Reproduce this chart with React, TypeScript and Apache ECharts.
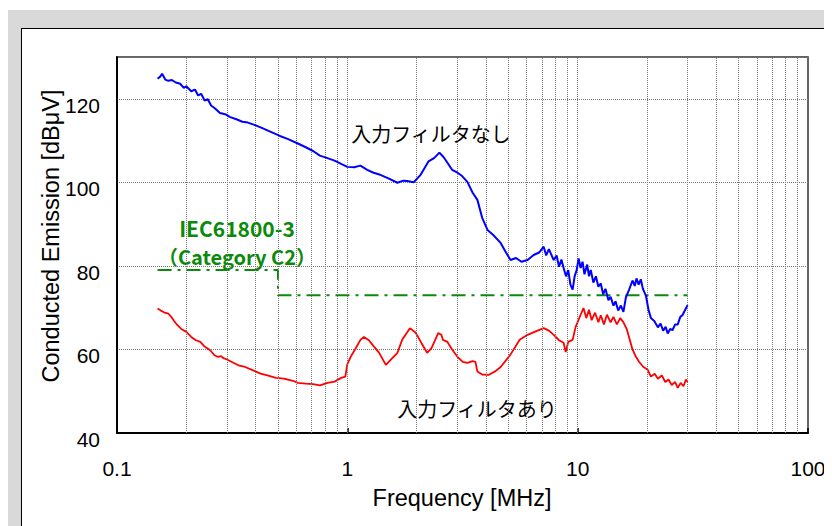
import React, { useEffect, useRef } from "react";
import * as echarts from "echarts";

// Conducted emission without input filter (MHz / dBμV)
const noFilterFreq = [
  0.150, 0.154, 0.157, 0.162, 0.167, 0.173, 0.180, 0.188, 0.195, 0.200,
  0.210, 0.218, 0.225, 0.232, 0.240, 0.248, 0.256, 0.265, 0.280, 0.295,
  0.310, 0.330, 0.350, 0.370, 0.398, 0.430, 0.460, 0.510, 0.550, 0.610,
  0.660, 0.710, 0.760, 0.820, 0.880, 0.940, 1.00, 1.07, 1.14, 1.22,
  1.30, 1.39, 1.50, 1.65, 1.75, 1.82, 1.94, 2.08, 2.25, 2.38,
  2.51, 2.62, 2.72, 2.85, 3.01, 3.15, 3.32, 3.50, 3.67, 3.85,
  4.06, 4.30, 4.63, 4.85, 5.11, 5.40, 5.70, 6.06, 6.44, 6.80,
  7.12, 7.30, 7.50, 7.87, 8.10, 8.30, 8.50, 8.69, 8.90, 9.10,
  9.30, 9.51, 9.70, 9.90, 10.1, 10.3, 10.5, 10.7, 11.0, 11.2,
  11.4, 11.7, 12.0, 12.3, 12.6, 12.9, 13.2, 13.6, 13.9, 14.3,
  14.6, 15.0, 15.4, 15.8, 16.2, 16.7, 17.3, 17.7, 18.0, 18.4,
  18.8, 19.2, 19.8, 20.3, 20.8, 21.5, 22.3, 22.9, 23.5, 24.1,
  24.6, 25.2, 25.8, 26.5, 27.2, 27.9, 28.5, 29.3, 30.0,
];
const noFilterLevel = [
  124.8, 125.3, 126.0, 124.6, 124.3, 124.5, 123.9, 123.6, 122.6, 123.0,
  121.8, 122.2, 120.8, 121.2, 119.6, 119.9, 118.4, 117.8, 116.6, 116.3,
  115.6, 115.1, 114.5, 114.3, 113.7, 112.9, 112.2, 111.1, 110.4, 109.3,
  108.4, 107.5, 106.4, 105.8, 105.2, 104.4, 103.7, 103.6, 104.0, 103.0,
  102.3, 101.8, 101.0, 99.9, 100.4, 100.3, 100.0, 101.8, 105.0, 105.8,
  107.1, 106.0, 104.7, 103.0, 102.3, 101.5, 100.1, 97.5, 95.8, 91.5,
  88.6, 87.4, 85.5, 83.5, 81.4, 81.9, 81.0, 81.4, 82.6, 83.2,
  84.6, 82.5, 84.0, 81.4, 82.5, 79.8, 81.5, 79.5, 77.5, 79.0,
  75.5, 74.3, 77.5, 79.0, 81.8, 79.5, 81.0, 78.0, 80.3, 77.5,
  79.0, 76.0, 77.5, 75.0, 75.8, 73.2, 74.5, 71.8, 72.6, 70.5,
  71.5, 69.3, 70.5, 69.0, 72.5, 74.2, 76.5, 75.2, 77.0, 75.5,
  76.8, 74.5, 72.8, 69.5, 67.5, 66.8, 65.3, 66.2, 64.5, 65.4,
  63.8, 64.9, 64.6, 66.0, 66.0, 67.8, 68.2, 69.5, 70.6,
];

// Conducted emission with input filter (MHz / dBμV)
const withFilterFreq = [
  0.150, 0.155, 0.160, 0.167, 0.172, 0.177, 0.183, 0.190, 0.200, 0.210,
  0.220, 0.230, 0.240, 0.254, 0.265, 0.275, 0.283, 0.290, 0.300, 0.320,
  0.340, 0.360, 0.390, 0.420, 0.450, 0.490, 0.530, 0.580, 0.610, 0.660,
  0.710, 0.760, 0.820, 0.880, 0.940, 0.980, 1.00, 1.04, 1.08, 1.14,
  1.18, 1.24, 1.30, 1.37, 1.47, 1.56, 1.65, 1.73, 1.87, 1.98,
  2.10, 2.22, 2.32, 2.48, 2.56, 2.60, 2.72, 2.85, 3.00, 3.17,
  3.32, 3.50, 3.60, 3.67, 3.85, 4.10, 4.40, 4.63, 5.10, 5.60,
  6.06, 6.50, 7.12, 7.50, 7.87, 8.30, 8.69, 8.87, 9.10, 9.51,
  9.80, 10.3, 10.6, 10.9, 11.2, 11.5, 11.9, 12.3, 12.6, 13.0,
  13.4, 13.9, 14.3, 14.8, 15.3, 15.8, 16.3, 16.8, 17.3, 17.8,
  18.5, 19.3, 20.1, 20.8, 21.6, 22.3, 23.2, 24.0, 24.8, 25.6,
  26.5, 27.2, 28.0, 28.8, 29.5, 30.0,
];
const withFilterLevel = [
  69.8, 69.3, 68.9, 68.6, 67.8, 66.8, 65.8, 64.9, 64.2, 63.0,
  62.2, 61.8, 60.7, 59.8, 58.6, 58.2, 58.4, 57.9, 57.6, 56.8,
  56.1, 55.8, 55.0, 54.2, 53.8, 53.2, 53.0, 52.5, 52.0, 51.8,
  51.7, 51.4, 52.0, 52.3, 53.2, 53.5, 56.5, 58.5, 60.0, 62.3,
  63.0, 62.2, 60.8, 59.3, 56.3, 57.8, 59.2, 62.3, 65.1, 64.0,
  61.5, 59.2, 60.3, 63.9, 63.5, 62.3, 61.8, 60.0, 58.3, 57.0,
  56.8, 57.2, 57.0, 54.7, 54.0, 53.9, 54.8, 55.8, 58.7, 62.3,
  63.5, 64.2, 65.1, 64.5, 63.5, 62.2, 61.6, 59.4, 61.8, 62.3,
  65.4, 68.3, 69.9, 67.5, 69.5, 67.0, 68.8, 66.5, 68.2, 66.0,
  68.3, 66.5, 67.8, 66.0, 67.5, 66.5, 65.0, 62.5, 60.0, 58.5,
  57.0, 55.8, 55.2, 53.5, 54.2, 53.0, 53.8, 52.2, 52.8, 51.5,
  52.2, 50.8, 52.0, 51.2, 52.8, 52.2,
];

// IEC61800-3 Category C2 conducted limit
const limitFreq = [0.15, 0.5, 0.5, 30];
const limitLevel = [79, 79, 73, 73];

// Vertical grid positions on the log frequency axis
const freqGrid = [
  0.2, 0.3, 0.4, 0.5, 0.6, 0.7, 0.8, 0.9, 1,
  2, 3, 4, 5, 6, 7, 8, 9, 10,
  20, 30, 40, 50, 60, 70, 80, 90,
];

const LATIN = "'Liberation Sans', Arial, sans-serif";
const JP = "'Noto Sans CJK JP', sans-serif";
const GREEN = "#0a8a0a";

const pairs = (xs: number[], ys: number[]) => xs.map((x, i) => [x, ys[i]]);

export default function App() {
  const ref = useRef<HTMLDivElement>(null);

  useEffect(() => {
    if (!ref.current) return;
    const chart = echarts.init(ref.current, undefined, { renderer: "svg" });
    chart.setOption({
      animation: false,
      grid: {
        left: 109,
        top: 49,
        right: 24,
        bottom: 93,
        show: true,
        borderColor: "#333",
        borderWidth: 1.5,
      },
      xAxis: {
        type: "log",
        logBase: 10,
        min: 0.1,
        max: 100,
        axisLine: { show: true, lineStyle: { color: "#000", width: 2 } },
        axisTick: { show: true, inside: true, length: 5, lineStyle: { color: "#000", width: 1.5 } },
        splitLine: { show: false },
        axisLabel: {
          color: "#000",
          fontSize: 21,
          fontFamily: LATIN,
          margin: 25,
          formatter: (v: number) => String(v),
        },
      },
      yAxis: {
        type: "value",
        min: 40,
        max: 130,
        interval: 20,
        axisLine: { show: true, lineStyle: { color: "#000", width: 2 } },
        axisTick: { show: false },
        splitLine: { show: true, lineStyle: { color: "#777", type: "dotted", width: 1 } },
        axisLabel: {
          color: "#000",
          fontSize: 21,
          fontFamily: LATIN,
          margin: 17,
          verticalAlign: "top",
          lineHeight: 13,
          formatter: (v: number) => (v === 130 ? "" : String(v)),
        },
      },
      series: [
        {
          name: "grid",
          type: "line",
          data: [],
          silent: true,
          z: 1,
          markLine: {
            silent: true,
            symbol: ["none", "none"],
            label: { show: false },
            lineStyle: { color: "#777", type: "dotted", width: 1 },
            data: freqGrid.map((f) => ({ xAxis: f })),
          },
        },
        {
          name: "IEC61800-3",
          type: "line",
          data: pairs(limitFreq, limitLevel),
          showSymbol: false,
          z: 3,
          lineStyle: { color: GREEN, width: 2, type: [14, 6, 3, 6] },
        },
        {
          name: "入力フィルタあり",
          type: "line",
          data: pairs(withFilterFreq, withFilterLevel),
          showSymbol: false,
          z: 4,
          lineStyle: { color: "#ff0000", width: 1.8 },
        },
        {
          name: "入力フィルタなし",
          type: "line",
          data: pairs(noFilterFreq, noFilterLevel),
          showSymbol: false,
          z: 5,
          lineStyle: { color: "#0000ff", width: 2 },
        },
      ],
      graphic: [
        {
          type: "text",
          x: 454,
          y: 490,
          style: {
            text: "Frequency [MHz]",
            fill: "#000",
            font: `23.5px ${LATIN}`,
            textAlign: "center",
            textVerticalAlign: "middle",
          },
        },
        {
          type: "text",
          x: 43,
          y: 228,
          rotation: Math.PI / 2,
          style: {
            text: "Conducted Emission [dBμV]",
            fill: "#000",
            font: `23.5px ${LATIN}`,
            textAlign: "center",
            textVerticalAlign: "middle",
          },
        },
        {
          type: "text",
          x: 423,
          y: 125,
          style: {
            text: "入力フィルタなし",
            fill: "#000",
            font: `20px ${JP}`,
            textAlign: "center",
            textVerticalAlign: "middle",
          },
        },
        {
          type: "text",
          x: 469,
          y: 400,
          style: {
            text: "入力フィルタあり",
            fill: "#000",
            font: `20px ${JP}`,
            textAlign: "center",
            textVerticalAlign: "middle",
          },
        },
        {
          type: "text",
          x: 229,
          y: 220,
          style: {
            text: "IEC61800-3",
            fill: GREEN,
            font: `bold 21px ${JP}`,
            lineHeight: 22,
            textAlign: "center",
            textVerticalAlign: "middle",
          },
        },
        {
          type: "text",
          x: 229,
          y: 248,
          style: {
            text: "（Category C2）",
            fill: GREEN,
            font: `bold 20px ${JP}`,
            lineHeight: 22,
            textAlign: "center",
            textVerticalAlign: "middle",
          },
        },
      ],
    });
    return () => chart.dispose();
  }, []);

  return (
    <div style={{ position: "relative", width: 824, height: 518, overflow: "hidden", background: "#fff" }}>
      <div style={{ position: "absolute", left: 0, top: 2, right: 0, bottom: 0, background: "#d9d9d9" }} />
      <div
        style={{
          position: "absolute",
          left: 13,
          top: 20,
          width: 809,
          height: 520,
          background: "#fff",
          border: "1.5px solid #000",
          boxSizing: "border-box",
        }}
      />
      <div style={{ position: "absolute", left: 822, top: 20, width: 2, height: 498, background: "#fff" }} />
      <div ref={ref} style={{ position: "absolute", left: 0, top: 0, width: 824, height: 518 }} />
    </div>
  );
}
